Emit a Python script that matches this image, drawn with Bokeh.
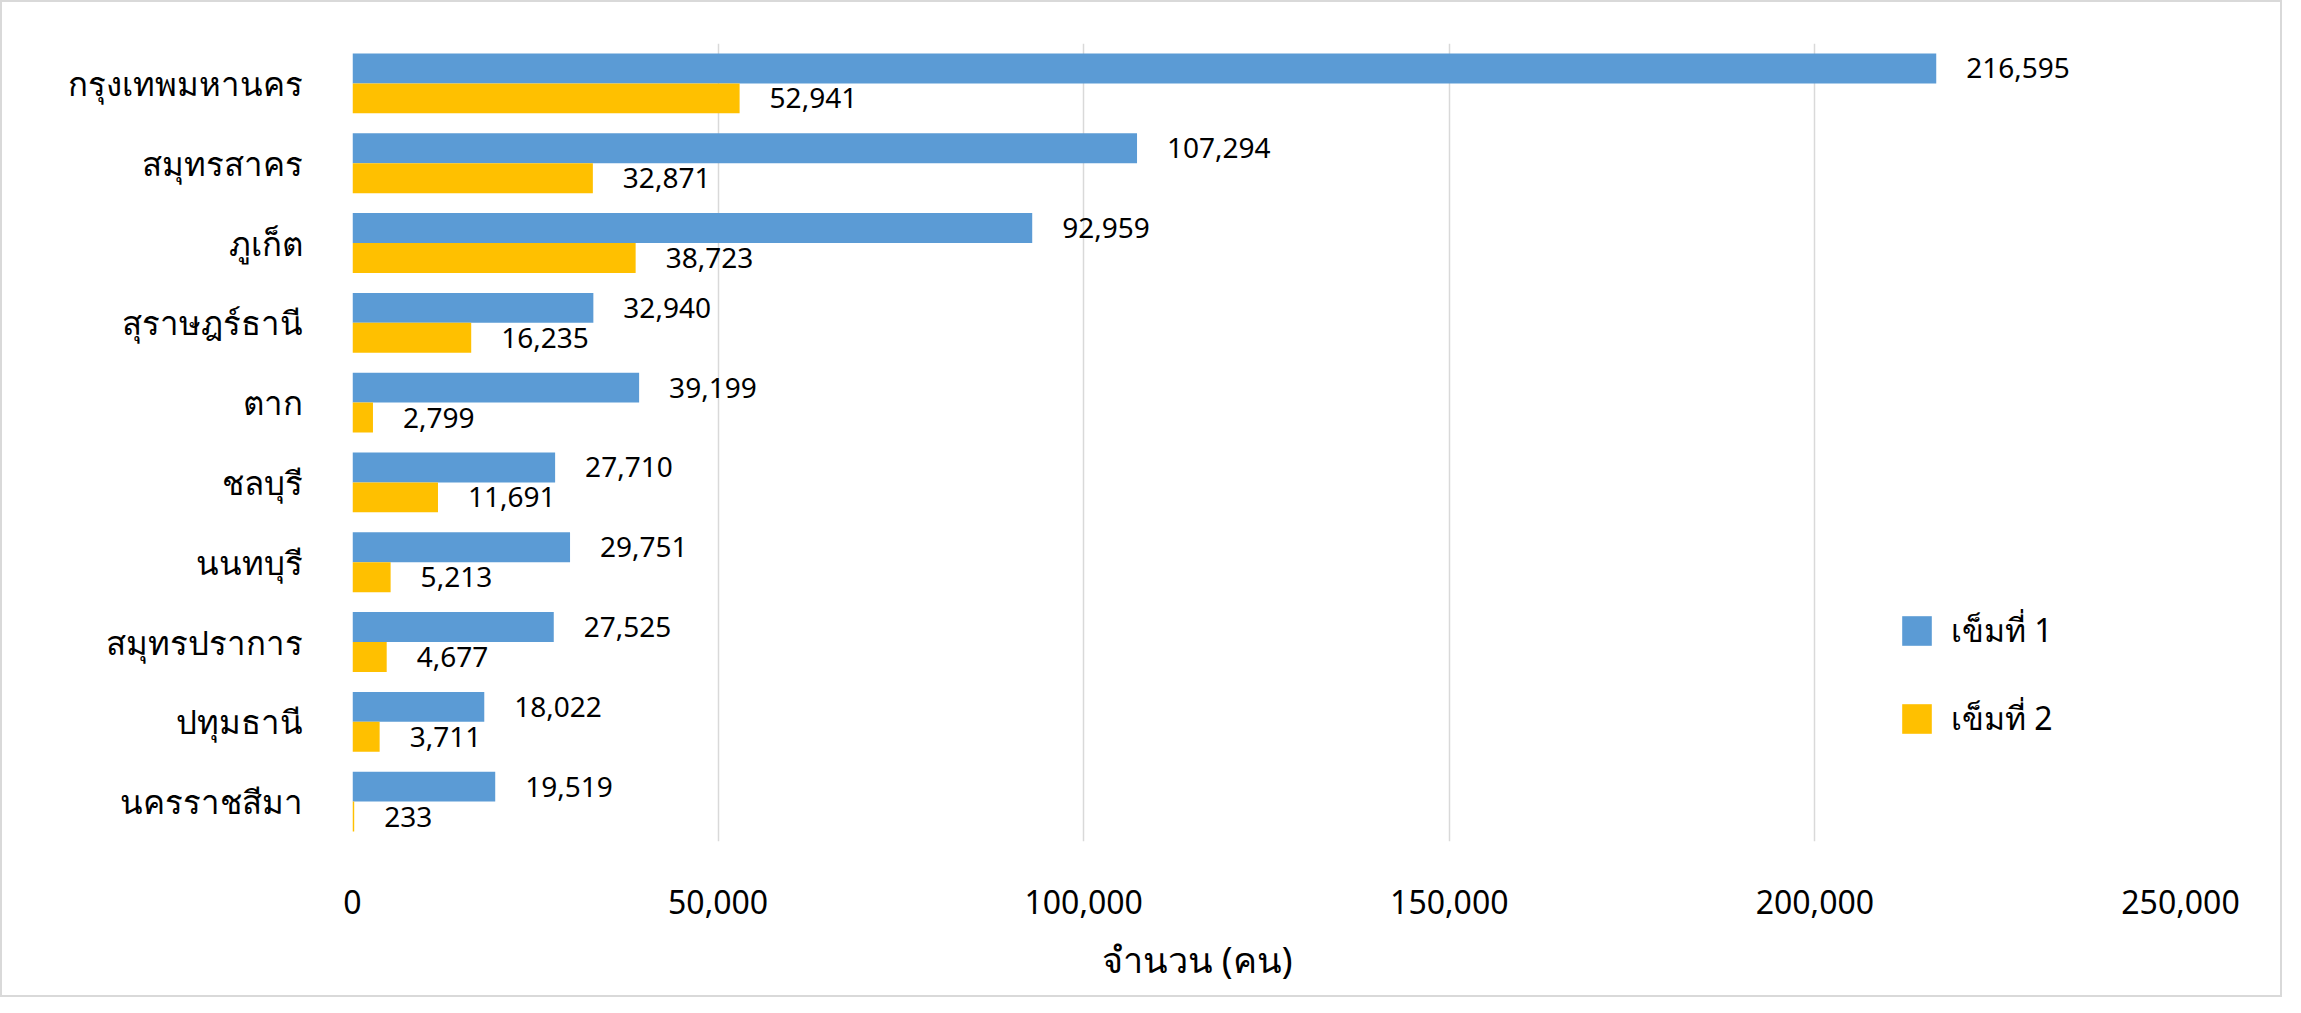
from bokeh.plotting import figure
from bokeh.models import ColumnDataSource, FactorRange, LabelSet, Title, NumeralTickFormatter, Legend, LegendItem, Range1d
from bokeh.transform import dodge
from bokeh.core.properties import value
from bokeh.embed import file_html
from bokeh.resources import INLINE

provinces = ["กรุงเทพมหานคร", "สมุทรสาคร", "ภูเก็ต", "สุราษฎร์ธานี", "ตาก",
             "ชลบุรี", "นนทบุรี", "สมุทรปราการ", "ปทุมธานี", "นครราชสีมา"]
dose1 = [216595, 107294, 92959, 32940, 39199, 27710, 29751, 27525, 18022, 19519]
dose2 = [52941, 32871, 38723, 16235, 2799, 11691, 5213, 4677, 3711, 233]
series_names = ["เข็มที่ 1", "เข็มที่ 2"]
x_ticks = [0, 50000, 100000, 150000, 200000, 250000]
x_title = "จำนวน (คน)"

BLUE = "#5B9BD5"
YELLOW = "#FFC000"
FONT = "Noto Sans"

src = ColumnDataSource(dict(
    prov=provinces,
    d1=dose1,
    d2=dose2,
    d1_txt=[f"{v:,}" for v in dose1],
    d2_txt=[f"{v:,}" for v in dose2],
))

p = figure(width=2282, height=997, output_backend="svg", toolbar_location=None,
           y_range=FactorRange(*reversed(provinces), range_padding=0),
           x_range=Range1d(0, 250000),
           min_border_left=350, min_border_right=104, min_border_top=41, min_border_bottom=153)
p.styles = {"border": "2px solid #D9D9D9", "box-sizing": "border-box"}
p.outline_line_color = None
p.background_fill_color = "white"
p.border_fill_color = "white"

r1 = p.hbar(y=dodge("prov", 0.1875, range=p.y_range), right="d1", left=0, height=0.375,
            source=src, fill_color=BLUE, line_color=None)
r2 = p.hbar(y=dodge("prov", -0.1875, range=p.y_range), right="d2", left=0, height=0.375,
            source=src, fill_color=YELLOW, line_color=None)

lab1 = LabelSet(x="d1", y=dodge("prov", 0.1875, range=p.y_range), text="d1_txt", source=src,
                x_offset=30, text_align="left", text_baseline="middle",
                text_font=value(FONT), text_font_size="28px", text_color="black")
lab2 = LabelSet(x="d2", y=dodge("prov", -0.1875, range=p.y_range), text="d2_txt", source=src,
                x_offset=30, text_align="left", text_baseline="middle",
                text_font=value(FONT), text_font_size="28px", text_color="black")
p.add_layout(lab1)
p.add_layout(lab2)

p.xaxis.ticker = x_ticks
p.xaxis.formatter = NumeralTickFormatter(format="0,0")
p.xaxis.axis_line_color = None
p.xaxis.major_tick_line_color = None
p.xaxis.minor_tick_line_color = None
p.xaxis.major_label_text_font = FONT
p.xaxis.major_label_text_font_size = "32px"
p.xaxis.major_label_text_color = "black"
p.xaxis.major_label_standoff = 42

p.yaxis.axis_line_color = None
p.yaxis.major_tick_line_color = None
p.yaxis.minor_tick_line_color = None
p.yaxis.major_label_text_font = FONT
p.yaxis.major_label_text_font_size = "33px"
p.yaxis.major_label_text_color = "black"
p.yaxis.major_label_standoff = 44

p.xgrid.grid_line_color = "#D9D9D9"
p.xgrid.grid_line_width = 1.5
p.ygrid.grid_line_color = None

# axis title as a below-panel title, placed slightly left of centre as in the reference
axis_title = Title(text=x_title, align="left", offset=749, standoff=32,
                   text_font=FONT, text_font_size="36px", text_font_style="normal",
                   text_color="black")
p.add_layout(axis_title, "below")

legend = Legend(items=[LegendItem(label=series_names[0], renderers=[r1]),
                       LegendItem(label=series_names[1], renderers=[r2])],
                location=(1546, 97), orientation="vertical",
                glyph_width=37, glyph_height=37, label_height=37,
                label_standoff=16, spacing=37, padding=0, margin=0,
                border_line_color=None, background_fill_alpha=0,
                label_text_font=FONT, label_text_font_size="32px", label_text_color="black")
p.add_layout(legend)

open("out.html", "w").write(file_html(p, INLINE))
